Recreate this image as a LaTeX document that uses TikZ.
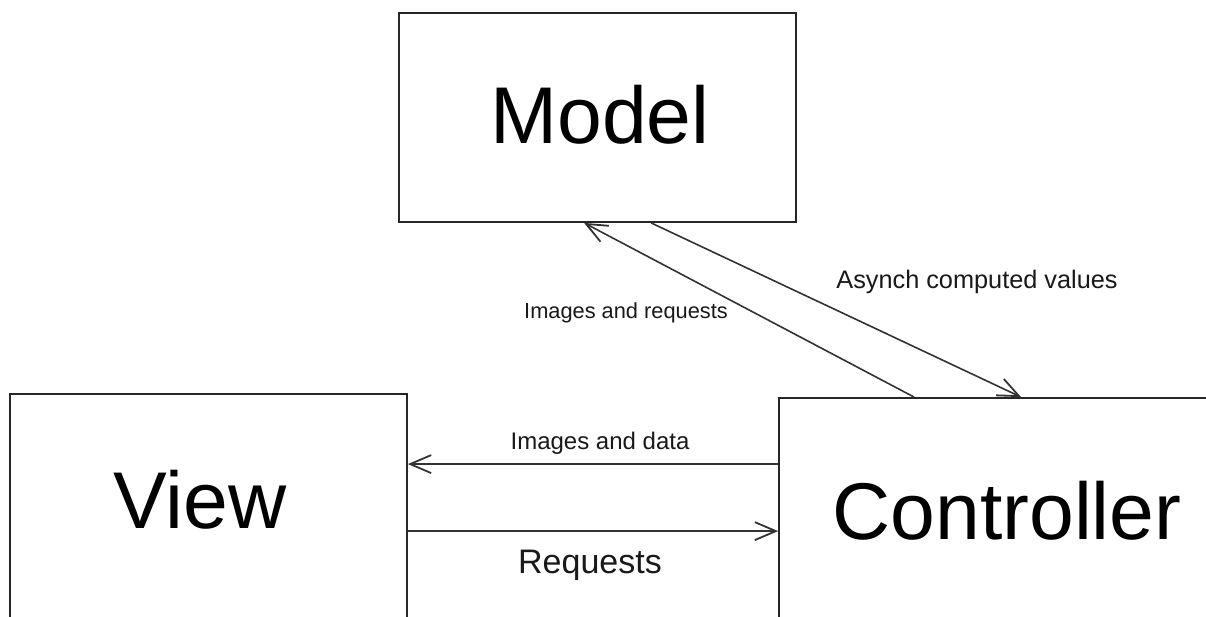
\documentclass[tikz,border=0pt]{standalone}
\usepackage{fontspec}
\setmainfont{Liberation Sans}
\usetikzlibrary{arrows.meta,calc}
\tikzset{
  block/.style={draw=black!85, line width=1.8pt, rectangle, inner sep=0pt},
  title/.style={font=\fontsize{80.5}{80}\selectfont, anchor=base, inner sep=0pt},
  flow/.style={draw=black!80, line width=1.6pt,
    -{Straight Barb[length=21pt,width=18pt,line width=1.8pt]}},
  tag/.style={anchor=base, inner sep=0pt, text=black!90}
}
\begin{document}
\begin{tikzpicture}[x=1pt, y=-1pt]
  \useasboundingbox (0,0) rectangle (1206,617);
  \clip (0,0) rectangle (1206,617);
  \fill[white] (0,0) rectangle (1206,617);

  % the three components
  \node[block, minimum width=397pt, minimum height=209pt] (model) at (597.5,117.5) {};
  \node[block, minimum width=397pt, minimum height=246pt] (view) at (208.5,517) {};
  \node[block, minimum width=456pt, minimum height=242pt] (controller) at (1007,519) {};

  \node[title] (modeltxt) at (600,144) {Model};
  \node[title] (viewtxt) at (200,528) {View};
  \node[title] (controllertxt) at (1007,539) {Controller};

  % connectors
  \draw[flow] ($(controller.north west)+(136,0)$) -- ($(model.south west)+(186,0)$);
  \draw[flow] ($(model.south west)+(253,0)$) -- ($(controller.north west)+(243,0)$);
  \draw[flow] ($(controller.north west)+(0,67)$) -- ($(view.north east)+(0,71)$);
  \draw[flow] ($(view.north east)+(0,138)$) -- ($(controller.north west)+(0,134)$);

  % connector labels
  \node[tag, font=\fontsize{21.8}{22}\selectfont] (lblreq) at (626,319) {Images and requests};
  \node[tag, font=\fontsize{25.3}{25}\selectfont] (lblasync) at (977,288) {Asynch computed values};
  \node[tag, font=\fontsize{24}{24}\selectfont] (lbldata) at (600,449) {Images and data};
  \node[tag, font=\fontsize{34}{34}\selectfont] (lblrequests) at (590,573) {Requests};
\end{tikzpicture}
\end{document}
